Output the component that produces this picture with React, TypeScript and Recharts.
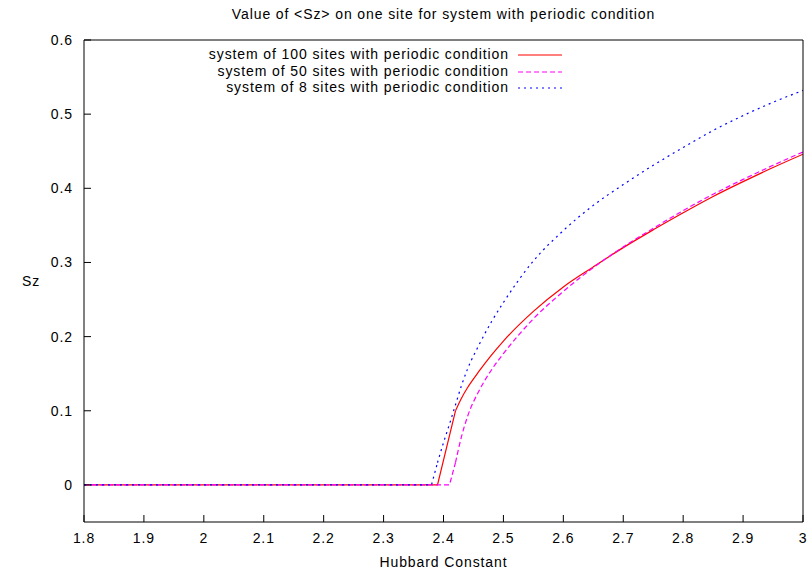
import { LineChart, Line, XAxis, YAxis } from "recharts";

// Hubbard constant U (x) and <Sz> (y) for each system size
const sites100U = [1.8, 2.39, 2.42, 2.43, 2.44, 2.46, 2.48, 2.5, 2.55, 2.6, 2.65, 2.7, 2.75, 2.8, 2.85, 2.9, 2.95, 3.0];
const sites100Sz = [0, 0, 0.1, 0.117, 0.131, 0.154, 0.175, 0.194, 0.234, 0.267, 0.294, 0.32, 0.344, 0.367, 0.389, 0.409, 0.428, 0.446];

const sites50U = [1.8, 2.41, 2.42, 2.43, 2.44, 2.46, 2.48, 2.5, 2.55, 2.6, 2.65, 2.7, 2.75, 2.8, 2.85, 2.9, 2.95, 3.0];
const sites50Sz = [0, 0, 0.03, 0.065, 0.092, 0.128, 0.155, 0.177, 0.224, 0.261, 0.293, 0.321, 0.346, 0.37, 0.392, 0.412, 0.431, 0.449];

const sites8U = [1.8, 2.38, 2.39, 2.4, 2.41, 2.42, 2.43, 2.44, 2.46, 2.48, 2.5, 2.55, 2.6, 2.65, 2.7, 2.75, 2.8, 2.85, 2.9, 2.95, 3.0];
const sites8Sz = [0, 0, 0.03, 0.057, 0.082, 0.108, 0.134, 0.156, 0.19, 0.22, 0.246, 0.302, 0.343, 0.377, 0.405, 0.431, 0.455, 0.478, 0.498, 0.516, 0.532];

const xTicks = [1.8, 1.9, 2, 2.1, 2.2, 2.3, 2.4, 2.5, 2.6, 2.7, 2.8, 2.9, 3];
const yTicks = [0, 0.1, 0.2, 0.3, 0.4, 0.5, 0.6];

const toPoints = (xs: number[], ys: number[]) => xs.map((x, i) => ({ x, y: ys[i] }));

// split: first points drawn straight (flat part + jump), the rest smoothed
const series = [
  { name: "system of 100 sites with periodic condition", data: toPoints(sites100U, sites100Sz), split: 2, color: "#ff0000", dash: undefined },
  { name: "system of 50 sites with periodic condition", data: toPoints(sites50U, sites50Sz), split: 2, color: "#ff00ff", dash: "5 3" },
  { name: "system of 8 sites with periodic condition", data: toPoints(sites8U, sites8Sz), split: 2, color: "#0000ff", dash: "2 4" },
];

const FONT = "'Liberation Sans', Arial, Helvetica, sans-serif";
const FS = 14;
const LS = 0.9;
const tickStyle = { fill: "#000", fontSize: FS, fontFamily: FONT, letterSpacing: LS };
const fmt = (v: number) => String(+v.toFixed(2));

export default function App() {
  return (
    <div style={{ position: "absolute", left: 0, top: 0, width: 809, height: 571, background: "#fff", fontFamily: FONT }}>
      <div style={{ position: "absolute", left: 84, width: 719, top: 6, textAlign: "center", fontSize: FS, letterSpacing: LS, lineHeight: "17px", color: "#000" }}>
        Value of &lt;Sz&gt; on one site for system with periodic condition
      </div>

      <LineChart width={809} height={571} margin={{ top: 39, right: 5, bottom: 0, left: 0 }}>
        <XAxis
          dataKey="x"
          type="number"
          domain={[1.8, 3]}
          ticks={xTicks}
          tickFormatter={fmt}
          height={49}
          tickSize={-7}
          tickMargin={18}
          tick={tickStyle}
          stroke="#000"
          label={{ value: "Hubbard Constant", position: "insideBottom", offset: 4, fill: "#000", fontSize: FS, fontFamily: FONT, letterSpacing: LS }}
          allowDataOverflow
        />
        <XAxis
          xAxisId="top"
          dataKey="x"
          orientation="top"
          type="number"
          domain={[1.8, 3]}
          ticks={xTicks}
          height={1}
          tickSize={-7}
          tick={false}
          stroke="#000"
          allowDataOverflow
        />
        <YAxis
          type="number"
          domain={[-0.05, 0.6]}
          ticks={yTicks}
          tickFormatter={fmt}
          width={84}
          tickSize={-7}
          tickMargin={18}
          tick={tickStyle}
          stroke="#000"
          label={{ value: "Sz", position: "insideLeft", offset: 22, fill: "#000", fontSize: FS, fontFamily: FONT, letterSpacing: LS }}
          allowDataOverflow
        />
        <YAxis
          yAxisId="right"
          orientation="right"
          type="number"
          domain={[-0.05, 0.6]}
          ticks={yTicks}
          width={1}
          tickSize={-7}
          tick={false}
          stroke="#000"
          allowDataOverflow
        />
        {/* invisible series so the mirrored border axes get drawn */}
        <Line xAxisId="top" yAxisId="right" data={series[2].data} dataKey="y" stroke="none" dot={false} activeDot={false} isAnimationActive={false} />
        {series.map(s => (
          <Line
            key={s.name + "-a"}
            data={s.data.slice(0, s.split + 1)}
            dataKey="y"
            type="linear"
            stroke={s.color}
            strokeWidth={1.2}
            strokeDasharray={s.dash}
            dot={false}
            activeDot={false}
            isAnimationActive={false}
          />
        ))}
        {series.map(s => (
          <Line
            key={s.name + "-b"}
            data={s.data.slice(s.split)}
            dataKey="y"
            type="monotone"
            stroke={s.color}
            strokeWidth={1.2}
            strokeDasharray={s.dash}
            dot={false}
            activeDot={false}
            isAnimationActive={false}
          />
        ))}
      </LineChart>

      {/* legend, gnuplot style: text right-aligned, sample line after it */}
      {series.map((s, i) => (
        <div key={s.name}>
          <div style={{ position: "absolute", right: 809 - 509, top: 46 + i * 16.6, fontSize: FS, letterSpacing: LS, lineHeight: "17px", color: "#000", whiteSpace: "nowrap" }}>
            {s.name}
          </div>
          <svg style={{ position: "absolute", left: 518, top: 49 + i * 16.6 }} width={44} height={12}>
            <line x1={0} y1={6} x2={44} y2={6} stroke={s.color} strokeWidth={1.2} strokeDasharray={s.dash} />
          </svg>
        </div>
      ))}
    </div>
  );
}
